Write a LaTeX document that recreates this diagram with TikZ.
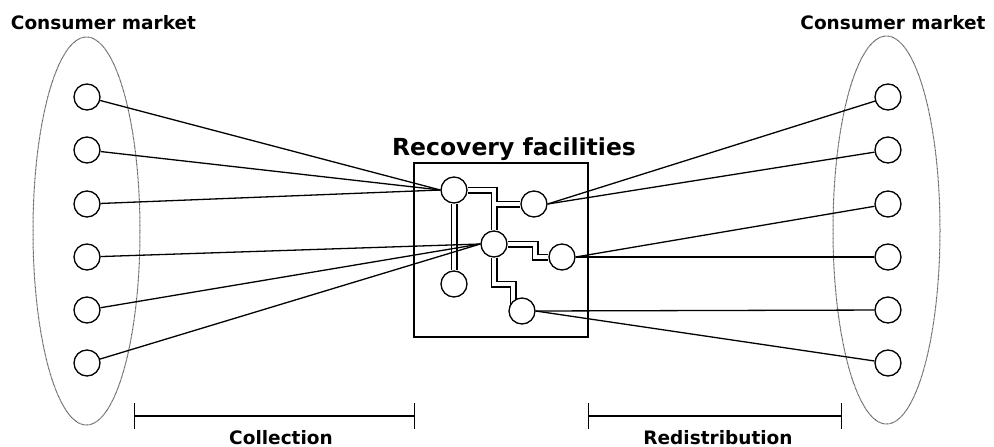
\documentclass[tikz,border=0pt]{standalone}
\usepackage{fontspec}
\setmainfont{DejaVu Sans}
\usetikzlibrary{shapes.geometric,arrows.meta}
\pgfdeclarelayer{background}
\pgfsetlayers{background,main}

% piping between the recovery facilities, drawn once as outline and once as core
\newcommand\drawpipes[1]{%
  \draw[#1] (A) -| (C);
  \draw[#1] (C |- B) -- (B);
  \draw[#1] (A) -- (E);
  \draw[#1] (C) -- (535,244) -- (535,257) -- (D);
  \draw[#1] (C) -- (494,284) -- (513,284) -- (513,311);
}

\begin{document}
\begin{tikzpicture}[x=1pt,y=-1pt,
  site/.style={circle,draw,line width=1.35pt,fill=white,minimum size=26pt,inner sep=0pt},
  link/.style={line width=1.3pt},
  market/.style={ellipse,draw=black!65,dash pattern=on 0.8pt off 0.5pt,line width=1pt,
                 minimum width=107pt,minimum height=388pt,inner sep=0pt},
  label/.style={font=\bfseries\fontsize{18.5}{20}\selectfont,anchor=base},
  bigtitle/.style={font=\bfseries\fontsize{23.5}{26}\selectfont,anchor=base},
  pipeout/.style={line width=7pt,line join=miter},
  pipein/.style={line width=4pt,white,line join=miter},
  facility/.style={draw,line width=1.3pt,minimum width=174pt,minimum height=174pt,inner sep=0pt},
]
\useasboundingbox (0,0) rectangle (994,447);

% consumer markets
\node[market] (mL) at (86.5,231) {};
\node[market] (mR) at (886.5,230) {};
\node[label] (tL) at (103.5,29) {Consumer market};
\node[label] (tR) at (893,29) {Consumer market};

\foreach \i/\y in {1/97,2/150,3/204,4/257,5/310,6/363}{
  \node[site] (L\i) at (87,\y) {};
  \node[site] (R\i) at (888,\y) {};
}

% recovery facilities
\node[facility] (box) at (501,250) {};
\node[bigtitle] (tBox) at (514,155) {Recovery facilities};
\node[site] (A) at (454,190) {};
\node[site] (B) at (534,204) {};
\node[site] (C) at (494,244) {};
\node[site] (D) at (562,257) {};
\node[site] (E) at (454,284) {};
\node[site] (F) at (522,311) {};

\begin{pgfonlayer}{background}
  \drawpipes{pipeout}
  \drawpipes{pipein}
\end{pgfonlayer}

% collection links
\foreach \i in {1,2,3} \draw[link] (L\i) -- (A.west);
\foreach \i in {4,5,6} \draw[link] (L\i) -- (C.west);
% redistribution links
\foreach \i in {1,2} \draw[link] (R\i) -- (B.east);
\foreach \i in {3,4} \draw[link] (R\i) -- (D.east);
\foreach \i in {5,6} \draw[link] (R\i) -- (F.east);

% phase brackets
\coordinate (c1) at (134,416);
\coordinate (c2) at (415,416);
\coordinate (r1) at (588,416);
\coordinate (r2) at (842,416);
\draw[link,{Bar[width=26pt]}-{Bar[width=26pt]}] (c1) -- (c2);
\draw[link,{Bar[width=26pt]}-{Bar[width=26pt]}] (r1) -- (r2);
\node[label] (tCol) at (281,444) {Collection};
\node[label] (tRed) at (718,444) {Redistribution};
\end{tikzpicture}
\end{document}
